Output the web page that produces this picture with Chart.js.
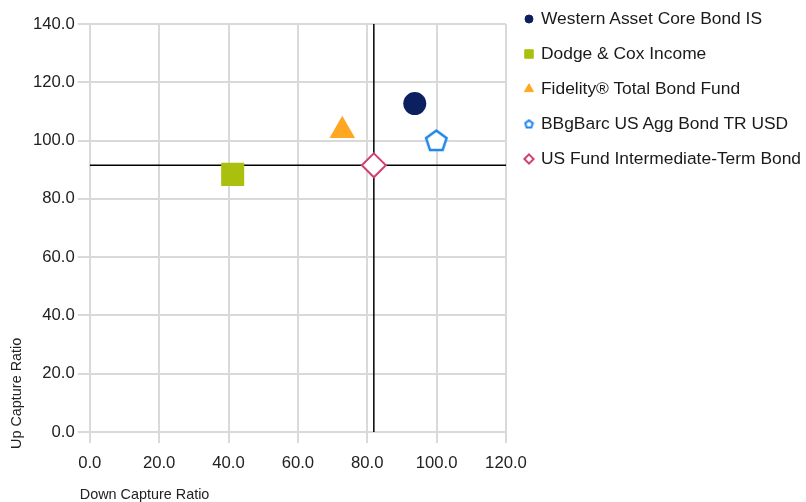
<!DOCTYPE html>
<html>
<head>
<meta charset="utf-8">
<script src="https://cdn.jsdelivr.net/npm/chart.js@4.4.1/dist/chart.umd.min.js"></script>
<style>
    html, body { margin: 0; padding: 0; background: #fff; }
    #wrap { position: relative; width: 806px; height: 502px; }
    #legend { position: absolute; left: 521px; top: 1px; font-family: 'Liberation Sans', Arial, sans-serif;
              font-size: 17.4px; color: #1a1a1a; }
    #legend .row { height: 35px; display: flex; align-items: center; white-space: nowrap; }
    #legend canvas { width: 16px; height: 16px; margin-right: 4px; }
</style>
</head>
<body>
<div id="wrap">
    <canvas id="myChart" width="806" height="502"></canvas>
    <div id="legend"></div>
</div>
<script>
// fund names and their (down capture, up capture) values
const fundNames = [
    "Western Asset Core Bond IS",
    "Dodge & Cox Income",
    "Fidelity® Total Bond Fund",
    "BBgBarc US Agg Bond TR USD",
    "US Fund Intermediate-Term Bond"
];
const downCapture = [93.7, 41.2, 72.8, 99.9, 81.9];
const upCapture = [112.7, 88.4, 103.4, 100.0, 91.5];

// crosshair through the category average
const crossX = 81.9;
const crossY = 91.5;

const xTicks = [0, 20, 40, 60, 80, 100, 120];
const yTicks = [0, 20, 40, 60, 80, 100, 120, 140];

const xTitle = "Down Capture Ratio";
const yTitle = "Up Capture Ratio";

const textFont = "'Liberation Sans', Arial, sans-serif";

function pentagon(size, color, lw) {
    const c = document.createElement("canvas");
    c.width = size;
    c.height = size;
    const g = c.getContext("2d");
    const r = size / 2 - lw / 2 - 0.5;
    const cx = size / 2, cy = size / 2 + r * 0.08;
    g.beginPath();
    for (let i = 0; i < 5; i++) {
        const a = -Math.PI / 2 + i * 2 * Math.PI / 5;
        const px = cx + r * Math.cos(a), py = cy + r * Math.sin(a);
        if (i === 0) g.moveTo(px, py); else g.lineTo(px, py);
    }
    g.closePath();
    g.fillStyle = "#fff";
    g.fill();
    g.lineWidth = lw;
    g.strokeStyle = color;
    g.stroke();
    return c;
}

const pentaBig = pentagon(25, "#1f86e8", 2.5);
const pentaSmall = pentagon(11, "#1f86e8", 2);

const styles = [
    { pointStyle: "circle", radius: 11.5, legendR: 4, bg: "#0c1f5e", border: "#0c1f5e", bw: 0 },
    { pointStyle: "rect", radius: 16.3, legendR: 6, bg: "#abc00e", border: "#abc00e", bw: 0 },
    { pointStyle: "triangle", radius: 14.8, legendR: 5.2, bg: "#ffa722", border: "#ffa722", bw: 0 },
    { pointStyle: pentaBig, legendStyle: pentaSmall, radius: 12, legendR: 5, bg: "#fff", border: "#1f86e8", bw: 2.5 },
    { pointStyle: "rectRot", radius: 12, legendR: 4.6, bg: "#fff", border: "#d1406e", bw: 2 }
];

const datasets = fundNames.map((name, i) => ({
    label: name,
    data: [{ x: downCapture[i], y: upCapture[i] }],
    pointStyle: styles[i].pointStyle,
    pointRadius: styles[i].radius,
    pointHoverRadius: styles[i].radius,
    backgroundColor: styles[i].bg,
    borderColor: styles[i].border,
    borderWidth: styles[i].bw,
    order: 0
}));

datasets.push({
    label: "_vline",
    data: [{ x: crossX, y: 0 }, { x: crossX, y: 140 }],
    showLine: true,
    borderColor: "#000",
    borderWidth: 1.5,
    pointRadius: 0,
    order: 5
});
datasets.push({
    label: "_hline",
    data: [{ x: 0, y: crossY }, { x: 120, y: crossY }],
    showLine: true,
    borderColor: "#000",
    borderWidth: 1.5,
    pointRadius: 0,
    order: 5
});

// html legend, one row per fund
function buildLegend() {
    const box = document.getElementById("legend");
    box.innerHTML = "";
    fundNames.forEach((name, i) => {
        const s = styles[i];
        const row = document.createElement("div");
        row.className = "row";
        const c = document.createElement("canvas");
        c.width = 16;
        c.height = 16;
        const g = c.getContext("2d");
        g.fillStyle = s.bg;
        g.strokeStyle = s.border;
        g.lineWidth = s.legendStyle ? 0 : (s.bw ? 2 : 0);
        Chart.helpers.drawPoint(g, {
            pointStyle: s.legendStyle || s.pointStyle,
            radius: s.legendR,
            rotation: 0,
            borderWidth: g.lineWidth
        }, 8, 8);
        const t = document.createElement("span");
        t.textContent = name;
        row.appendChild(c);
        row.appendChild(t);
        box.appendChild(row);
    });
}

// axis titles sit past the corner of the plot, like the original
const axisTitles = {
    id: "axisTitles",
    afterDraw(chart) {
        const a = chart.chartArea;
        const c = chart.ctx;
        c.save();
        c.fillStyle = "#222";
        c.font = "14.4px " + textFont;
        c.textBaseline = "middle";
        c.textAlign = "left";
        c.fillText(xTitle, a.left - 10, a.bottom + 63);
        c.translate(17, a.bottom + 17);
        c.rotate(-Math.PI / 2);
        c.fillText(yTitle, 0, 0);
        c.restore();
    }
};

const ctx = document.getElementById("myChart").getContext("2d");
new Chart(ctx, {
    type: "scatter",
    data: { datasets: datasets },
    options: {
        responsive: false,
        animation: false,
        layout: { padding: { top: 24, left: 30, right: 300, bottom: 19 } },
        plugins: {
            tooltip: { enabled: false },
            legend: { display: false }
        },
        scales: {
            x: {
                type: "linear",
                min: 0,
                max: 120,
                afterBuildTicks: axis => { axis.ticks = xTicks.map(v => ({ value: v })); },
                grid: { color: "#d9d9d9", lineWidth: 2, tickLength: 11 },
                border: { color: "#d9d9d9", width: 2 },
                ticks: {
                    color: "#222",
                    padding: 10,
                    font: { family: textFont, size: 16.7 },
                    callback: v => v.toFixed(1)
                }
            },
            y: {
                type: "linear",
                min: 0,
                max: 140,
                afterBuildTicks: axis => { axis.ticks = yTicks.map(v => ({ value: v })); },
                grid: { color: "#d9d9d9", lineWidth: 2, tickLength: 12 },
                border: { color: "#d9d9d9", width: 2 },
                ticks: {
                    color: "#222",
                    padding: 3,
                    font: { family: textFont, size: 16.7 },
                    callback: v => v.toFixed(1)
                }
            }
        }
    },
    plugins: [axisTitles]
});
buildLegend();
</script>
</body>
</html>
